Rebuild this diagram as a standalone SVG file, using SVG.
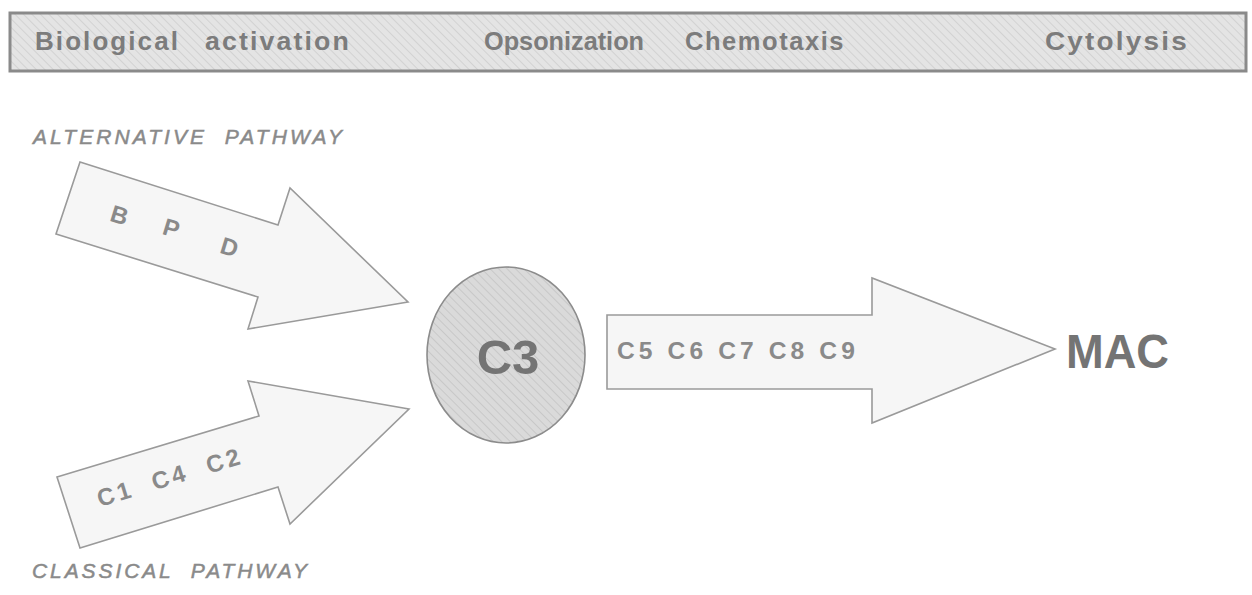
<svg xmlns="http://www.w3.org/2000/svg" width="1252" height="595" viewBox="0 0 1252 595">
<defs>
<pattern id="hatch" width="6" height="6" patternUnits="userSpaceOnUse" patternTransform="rotate(-45)">
<rect width="6" height="6" fill="#e4e4e4"/>
<line x1="0" y1="0" x2="0" y2="6" stroke="#d2d2d2" stroke-width="2"/>
</pattern>
<pattern id="hatch2" width="6" height="6" patternUnits="userSpaceOnUse" patternTransform="rotate(-45)">
<rect width="6" height="6" fill="#dadada"/>
<line x1="0" y1="0" x2="0" y2="6" stroke="#c8c8c8" stroke-width="2"/>
</pattern>
<style>
text{white-space:pre}
.arrow{fill:#f6f6f6;stroke:#9a9a9a;stroke-width:1.6;stroke-linejoin:miter}
.ban{font-family:"Liberation Sans",Arial,sans-serif;font-weight:bold;font-size:25px;fill:#7c7c7c}
.path{font-family:"Liberation Sans",Arial,sans-serif;font-style:italic;font-size:21px;fill:#8a8a8a;stroke:#8a8a8a;stroke-width:0.5}
.lbl{font-family:"Liberation Sans",Arial,sans-serif;font-weight:bold;font-size:24px;fill:#8a8a8a}
.big{font-family:"Liberation Sans",Arial,sans-serif;font-weight:bold;fill:#747474}
</style>
</defs>
<rect width="1252" height="595" fill="#ffffff"/>

<g id="banner">
<rect x="10" y="13" width="1236" height="58" fill="url(#hatch)" stroke="#8a8a8a" stroke-width="3"/>
<text class="ban" x="35" y="50" textLength="145" lengthAdjust="spacingAndGlyphs" letter-spacing="2">Biological</text>
<text class="ban" x="205" y="50" textLength="146" lengthAdjust="spacingAndGlyphs" letter-spacing="2">activation</text>
<text class="ban" x="484" y="50" textLength="160" lengthAdjust="spacingAndGlyphs">Opsonization</text>
<text class="ban" x="685" y="50" textLength="160" lengthAdjust="spacingAndGlyphs" letter-spacing="1.5">Chemotaxis</text>
<text class="ban" x="1045" y="50" textLength="144" lengthAdjust="spacingAndGlyphs" letter-spacing="2">Cytolysis</text>
</g>

<g id="alternative-pathway">
<text class="path" x="33" y="144" textLength="309" lengthAdjust="spacing">ALTERNATIVE  PATHWAY</text>
<polygon class="arrow" points="80,162 278,225 290,188 408,302 248,329 258,297 56,234"/>
<text class="lbl" font-size="26" transform="translate(117,223) rotate(17)" text-anchor="middle">B</text>
<text class="lbl" font-size="26" transform="translate(169,236) rotate(17)" text-anchor="middle">P</text>
<text class="lbl" font-size="26" transform="translate(227,255) rotate(17)" text-anchor="middle">D</text>
</g>

<g id="classical-pathway">
<polygon class="arrow" points="57,477 259,416 248,381 409,409 290,524 278,487 80,548"/>
<text class="lbl" transform="translate(100,507) rotate(-17)" textLength="148" lengthAdjust="spacing">C1  C4  C2</text>
<text class="path" x="32" y="578" textLength="275" lengthAdjust="spacing">CLASSICAL  PATHWAY</text>
</g>

<g id="c3">
<ellipse cx="506" cy="355" rx="79" ry="88" fill="url(#hatch2)" stroke="#8c8c8c" stroke-width="1.6"/>
<text class="big" x="508" y="374" font-size="49" text-anchor="middle">C3</text>
</g>

<g id="terminal-pathway">
<polygon class="arrow" points="607,315 872,315 872,278 1055,349 872,423 872,389 607,389"/>
<text class="lbl" x="617" y="359" textLength="242" lengthAdjust="spacingAndGlyphs" letter-spacing="4">C5 C6 C7 C8 C9</text>
</g>

<g id="mac">
<text class="big" x="1066" y="368" font-size="48" textLength="103" lengthAdjust="spacingAndGlyphs">MAC</text>
</g>
</svg>
